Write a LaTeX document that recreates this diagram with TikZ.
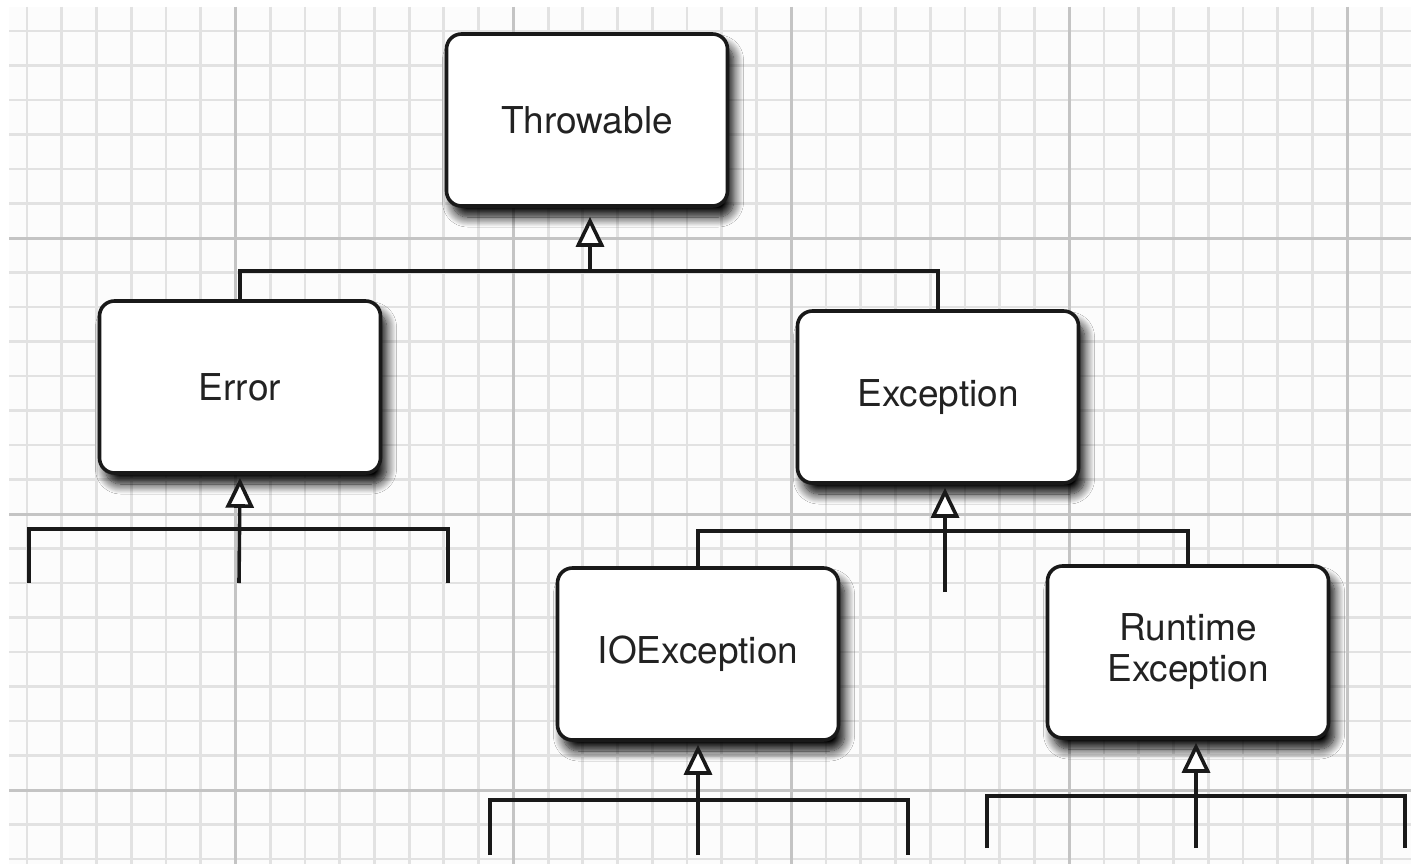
\documentclass[tikz,border=0pt]{standalone}
\usepackage{fontspec}
\setmainfont{TeX Gyre Heros}
\usetikzlibrary{arrows.meta,shadows.blur}
\usepackage{xcolor}
\definecolor{gridminor}{HTML}{E2E2E2}
\definecolor{gridmajor}{HTML}{C4C4C4}
\definecolor{inktext}{HTML}{222222}

\begin{document}
\begin{tikzpicture}[
  x=1pt,y=-1pt,
  minorline/.style={draw=gridminor,line width=2.8pt},
  majorline/.style={draw=gridmajor,line width=3pt},
  classbox/.style={
    draw=black!90,line width=3.6pt,fill=white,rounded corners=15pt,
    minimum width=281pt,minimum height=172pt,inner sep=0pt,
    align=center,text=inktext,font=\fontsize{37}{41}\selectfont,
    blur shadow={shadow xshift=6pt,shadow yshift=-11pt,
      shadow blur radius=10pt,shadow blur steps=12,shadow opacity=100}
  },
  link/.style={draw=black!90,line width=3.6pt},
  inherit/.style={
    link,-{Triangle[open,fill=white,length=30pt,width=28pt,line width=3.6pt]},
    shorten >=3pt
  }
]
  \useasboundingbox (0,0) rectangle (1411,864);
  \fill[white] (0,0) rectangle (1411,864);
  \fill[black!1] (9,7) rectangle (1411,864);

  % squared paper
  \foreach \i in {0,...,39}
    {\draw[minorline] (27+34.74*\i,7) -- (27+34.74*\i,864);}
  \foreach \j in {0,...,24}
    {\draw[minorline] (9,31+34.5*\j) -- (1411,31+34.5*\j);}
  \foreach \i in {6,14,22,30,38}
    {\draw[majorline] (27+34.74*\i,7) -- (27+34.74*\i,864);}
  \foreach \j in {6,14,22}
    {\draw[majorline] (9,31+34.5*\j) -- (1411,31+34.5*\j);}

  \node[classbox] (throwable) at (587,120) {Throwable};
  \node[classbox] (error) at (240,387) {Error};
  \node[classbox] (exception) at (938,397) {Exception};
  \node[classbox] (ioexception) at (698,654) {IOException};
  \node[classbox] (runtime) at (1188,652) {Runtime\\Exception};

  \coordinate (throwbar) at (590,271);
  \coordinate (errbar) at (239,529);
  \coordinate (errleft) at (29,583);
  \coordinate (errright) at (448,583);
  \coordinate (errmid) at (239,583);
  \coordinate (excbar) at (945,531);
  \coordinate (excmid) at (945,592);
  \coordinate (iobar) at (698,800);
  \coordinate (ioleft) at (490,855);
  \coordinate (ioright) at (908,855);
  \coordinate (iomid) at (698,855);
  \coordinate (rtbar) at (1196,796);
  \coordinate (rtleft) at (987,848);
  \coordinate (rtright) at (1405,848);
  \coordinate (rtmid) at (1196,848);

  \draw[link] (error.north) |- (throwbar) -| (exception.north);
  \draw[inherit,shorten >=9pt] (throwbar) -- (throwbar |- throwable.south);

  \draw[link] (errleft) |- (errbar) -| (errright);
  \draw[inherit] (errmid) -- (error.south);

  \draw[link] (ioexception.north) |- (excbar) -| (runtime.north);
  \draw[inherit] (excmid) -- (excmid |- exception.south);

  \draw[link] (ioleft) |- (iobar) -| (ioright);
  \draw[inherit] (iomid) -- (ioexception.south);

  \draw[link] (rtleft) |- (rtbar) -| (rtright);
  \draw[inherit] (rtmid) -- (rtmid |- runtime.south);
\end{tikzpicture}
\end{document}
